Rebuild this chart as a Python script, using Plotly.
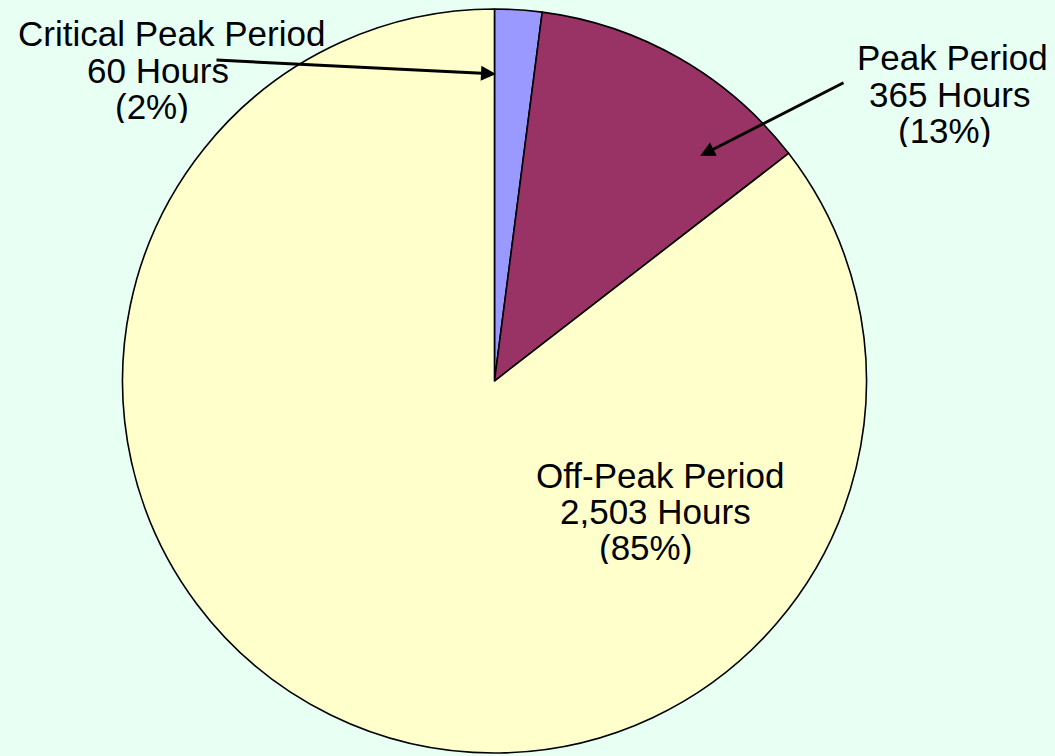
import plotly.graph_objects as go

W, H = 1055, 756

categories = ["Critical Peak Period", "Peak Period", "Off-Peak Period"]
hours = [60, 365, 2503]
hour_labels = ["60 Hours", "365 Hours", "2,503 Hours"]
pct_labels = ["(2%)", "(13%)", "(85%)"]
colors = ["#9999FF", "#993366", "#FFFFCC"]

FONT = "Arial, Liberation Sans, sans-serif"
FS = 35

fig = go.Figure(go.Pie(
    labels=categories,
    values=hours,
    sort=False,
    direction="clockwise",
    rotation=0,
    textinfo="none",
    hoverinfo="label+value+percent",
    marker=dict(colors=colors, line=dict(color="black", width=1.6)),
    domain=dict(x=[0.1161, 0.8213], y=[0.004, 0.988]),
    showlegend=False,
))

def px(x, y):
    return x / W, 1 - y / H

# label lines: (text, center x px, center y px)
label_lines = [
    (categories[0], 171, 33.5), (hour_labels[0], 157.5, 69.7), (pct_labels[0], 151.5, 105.9),
    (categories[1], 952.5, 57.5), (hour_labels[1], 949, 93.7), (pct_labels[1], 944.5, 129.9),
    (categories[2], 660, 475), (hour_labels[2], 655, 511.2), (pct_labels[2], 645, 547.4),
]

annotations = []
for txt, cx, cy in label_lines:
    ax_, ay_ = px(cx, cy)
    annotations.append(dict(
        text=txt, x=ax_, y=ay_, xref="paper", yref="paper",
        xanchor="center", yanchor="middle", showarrow=False,
        height=34, borderpad=0, valign="middle",
        font=dict(family=FONT, size=FS, color="black"),
    ))

# arrows: (tail px, head px)
arrows = [((215, 60), (496, 74)), ((845, 82), (700, 156))]
for (tx, ty), (hx, hy) in arrows:
    x, y = px(hx, hy)
    annotations.append(dict(
        text="", x=x, y=y, xref="paper", yref="paper",
        ax=tx - hx, ay=ty - hy, axref="pixel", ayref="pixel",
        showarrow=True, arrowhead=2, arrowsize=1.0, arrowwidth=3,
        arrowcolor="black", standoff=0,
    ))

fig.update_layout(
    width=W, height=H,
    margin=dict(l=0, r=0, t=0, b=0),
    paper_bgcolor="#E8FFF4",
    plot_bgcolor="#E8FFF4",
    annotations=annotations,
)

fig.write_html(
    "out.html",
    config={"displayModeBar": False},
    post_script="document.body.style.margin='0';document.body.style.overflow='hidden';",
)
